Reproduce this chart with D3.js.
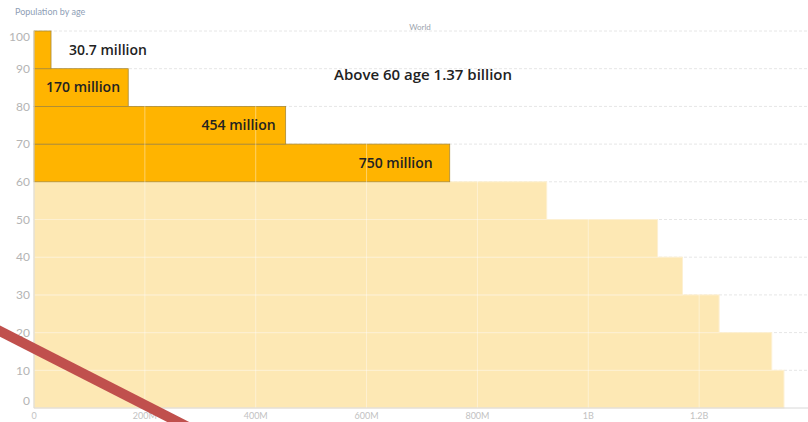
<!DOCTYPE html>
<html><head><meta charset="utf-8">
<script src="https://cdn.jsdelivr.net/npm/d3@7"></script>
<style>html,body{margin:0;padding:0;background:#fff;overflow:hidden}svg{display:block}</style>
</head><body>
<script>
// Data
const ageStarts = [0, 10, 20, 30, 40, 50, 60, 70, 80, 90];
const populationM = [1353, 1331, 1236, 1170, 1125, 925, 750, 454, 170, 30.7];
const barLabels = ["", "", "", "", "", "", "750 million", "454 million", "170 million", "30.7 million"];
const yTicks = [0, 10, 20, 30, 40, 50, 60, 70, 80, 90, 100];
const xTicks = [0, 200, 400, 600, 800, 1000, 1200];
const xTickLabels = ["0", "200M", "400M", "600M", "800M", "1B", "1.2B"];
const chartTitle = "Population by age";
const subTitle = "World";
const summaryText = "Above 60 age 1.37 billion";

const W = 808, H = 422;
const svg = d3.select("body").append("svg").attr("width", W).attr("height", H);

const x = d3.scaleLinear().domain([0, 1400]).range([34, 810]);
const y = d3.scaleLinear().domain([0, 100]).range([408, 31]);

// titles
svg.append("text").attr("x", 15).attr("y", 15).attr("font-family", "Lato, sans-serif")
  .attr("font-size", 9).attr("fill", "#8fa0b6").text(chartTitle);
svg.append("text").attr("x", 420).attr("y", 30).attr("text-anchor", "middle")
  .attr("font-family", "Lato, sans-serif").attr("font-size", 8).attr("fill", "#9aa3ad").text(subTitle);

// horizontal dashed grid
svg.append("g").selectAll("line").data(yTicks.filter(d => d > 0)).join("line")
  .attr("x1", x(0)).attr("x2", W).attr("y1", d => y(d)).attr("y2", d => y(d))
  .attr("stroke", "#e6e6e6").attr("stroke-dasharray", "3,2").attr("stroke-width", 1);

// bars
const data = ageStarts.map((a, i) => ({ a, v: populationM[i], label: barLabels[i] }));
svg.append("g").selectAll("rect").data(data).join("rect")
  .attr("x", x(0))
  .attr("y", d => y(d.a + 10))
  .attr("width", d => x(d.v) - x(0))
  .attr("height", d => y(d.a) - y(d.a + 10))
  .attr("fill", d => d.a >= 60 ? "#ffb400" : "#fde8b4")
  .attr("stroke", d => d.a >= 60 ? "#a88a3a" : "#fdf0d2")
  .attr("stroke-width", d => d.a >= 60 ? 0.8 : 1);

// vertical grid on top (light lines)
svg.append("g").selectAll("line").data(xTicks.filter(d => d > 0)).join("line")
  .attr("x1", d => x(d)).attr("x2", d => x(d)).attr("y1", y(100)).attr("y2", y(0))
  .attr("stroke", "#ffffff").attr("stroke-opacity", 0.4).attr("stroke-width", 1);

// axes lines
svg.append("line").attr("x1", x(0)).attr("x2", x(0)).attr("y1", y(100)).attr("y2", y(0))
  .attr("stroke", "#d8d8d8");
svg.append("line").attr("x1", x(0)).attr("x2", W).attr("y1", y(0)).attr("y2", y(0))
  .attr("stroke", "#d8d8d8");

// y labels
svg.append("g").selectAll("text").data(yTicks).join("text")
  .attr("x", 30).attr("y", d => y(d) + (d === 100 ? 6 : d === 0 ? -7 : 0))
  .attr("dy", "0.35em").attr("text-anchor", "end")
  .attr("font-family", "Lato, sans-serif").attr("font-size", 12).attr("fill", "#b4b4b4")
  .text(d => d);

// x labels
svg.append("g").selectAll("text").data(xTicks).join("text")
  .attr("x", d => x(d)).attr("y", 419).attr("text-anchor", "middle")
  .attr("font-family", "Lato, sans-serif").attr("font-size", 9).attr("fill", "#c2c2c2")
  .text((d, i) => xTickLabels[i]);

// bar labels
const lab = svg.append("g").attr("font-family", "'Open Sans', sans-serif").attr("font-size", 14)
  .attr("font-weight", 600).attr("fill", "#222");
data.forEach(d => {
  if (!d.label) return;
  const cy = (y(d.a) + y(d.a + 10)) / 2;
  let tx, anchor;
  if (d.a === 90) { tx = x(d.v) + 18; anchor = "start"; }
  else if (d.a === 80) { tx = x(0) + 12; anchor = "start"; }
  else if (d.a === 70) { tx = x(d.v) - 10; anchor = "end"; }
  else { tx = x(d.v) - 17; anchor = "end"; }
  lab.append("text").attr("x", tx).attr("y", cy).attr("dy", "0.35em")
    .attr("text-anchor", anchor).text(d.label);
});
lab.append("text").attr("x", 334).attr("y", 75).attr("dy", "0.35em")
  .attr("font-size", 15).text(summaryText);

// red diagonal annotation stroke
svg.append("line").attr("x1", -10).attr("y1", 326).attr("x2", 190).attr("y2", 428)
  .attr("stroke", "#c0504d").attr("stroke-width", 10);
</script>
</body></html>
